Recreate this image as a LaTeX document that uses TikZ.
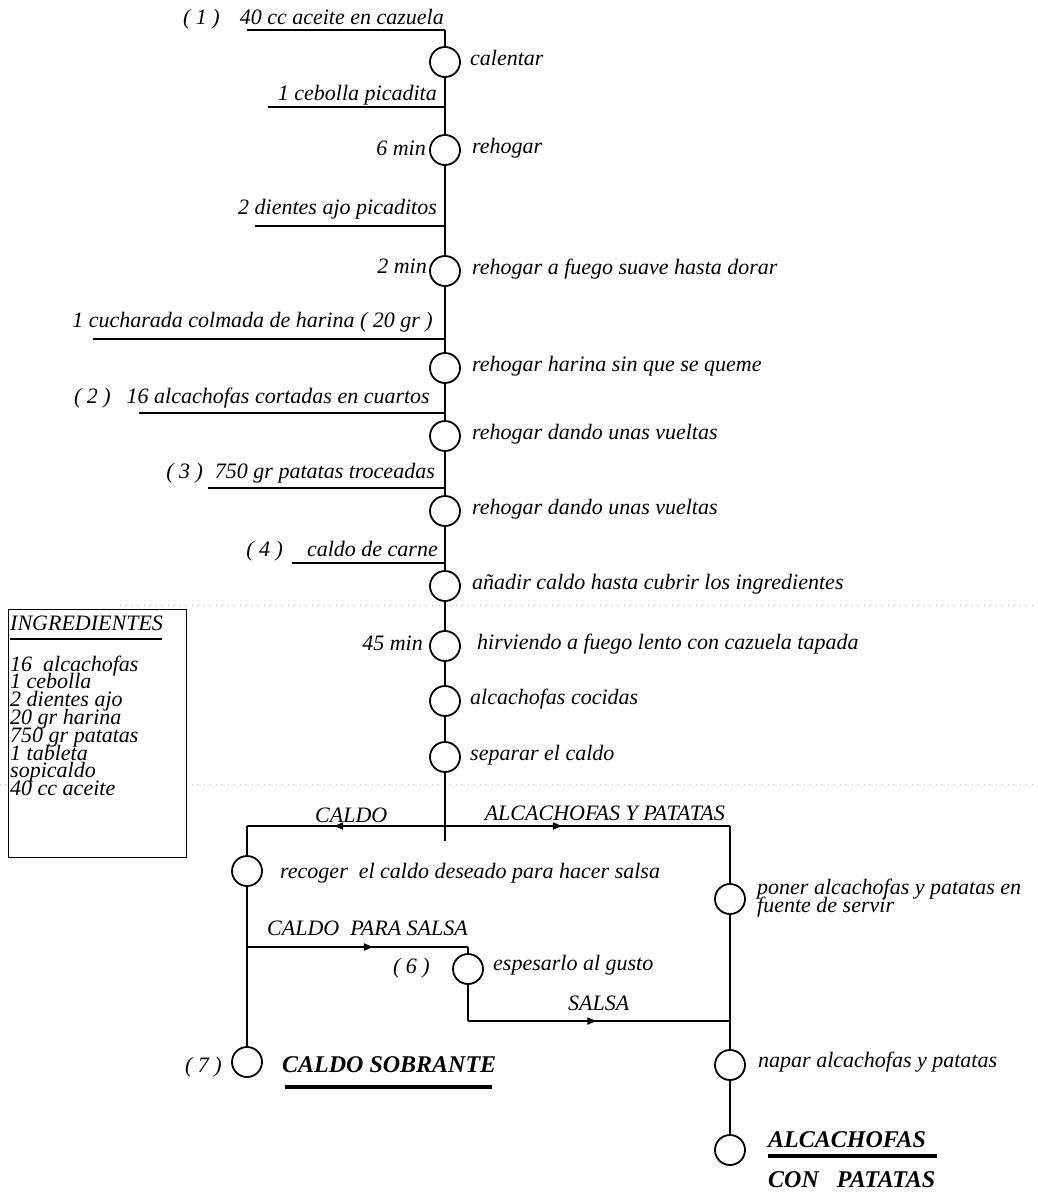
\documentclass[tikz,border=0pt]{standalone}
\usepackage{fontspec}
\setmainfont{Liberation Serif}
\usetikzlibrary{decorations.markings,arrows.meta}

\tikzset{
  stepc/.style={circle,draw,line width=1.8pt,minimum size=30pt,inner sep=0pt},
  flow/.style={line width=1.9pt},
  txt/.style={inner sep=0pt,font=\fontsize{22}{22}\selectfont\itshape},
  ingr/.style={txt,anchor=base east},
  act/.style={txt,anchor=base west},
  dur/.style={txt,anchor=base east},
  result/.style={inner sep=0pt,anchor=base west,font=\fontsize{24}{24}\selectfont\bfseries\itshape},
  heavyrule/.style={line width=3.2pt},
  midarrow/.style={postaction={decorate},decoration={markings,
      mark=at position #1 with {\arrow{Triangle[length=9pt,width=7pt]}}}},
  foldline/.style={gray!60,line width=0.7pt,dash pattern=on 1pt off 5pt}
}

\begin{document}
\begin{tikzpicture}[x=1pt,y=-1pt]
\useasboundingbox (0,0) rectangle (1037,1197);

% faint fold marks of the sheet
\draw[foldline] (120,605) -- (1037,605);
\draw[foldline] (0,784) -- (8,784);
\draw[foldline] (186,784) -- (1037,784);

% ---------------- main column ----------------
\node[stepc] (s1)  at (445,62)  {};
\node[stepc] (s2)  at (445,150) {};
\node[stepc] (s3)  at (445,271) {};
\node[stepc] (s4)  at (445,368) {};
\node[stepc] (s5)  at (445,436) {};
\node[stepc] (s6)  at (445,511) {};
\node[stepc] (s7)  at (445,586) {};
\node[stepc] (s8)  at (445,646) {};
\node[stepc] (s9)  at (445,701) {};
\node[stepc] (s10) at (445,757) {};

% joints where ingredients enter
\coordinate (top) at (445,30);
\coordinate (j2) at (445,107);
\coordinate (j3) at (445,226);
\coordinate (j4) at (445,339);
\coordinate (j5) at (445,413);
\coordinate (j6) at (445,488);
\coordinate (j7) at (445,563);
\coordinate (a1) at (247,30);
\coordinate (a2) at (268,107);
\coordinate (a3) at (255,226);
\coordinate (a4) at (93,339);
\coordinate (a5) at (139,413);
\coordinate (a6) at (208,488);
\coordinate (a7) at (292,563);

\draw[flow] (top) -- (s1);
\draw[flow] (s1) -- (s2);
\draw[flow] (s2) -- (s3);
\draw[flow] (s3) -- (s4);
\draw[flow] (s4) -- (s5);
\draw[flow] (s5) -- (s6);
\draw[flow] (s6) -- (s7);
\draw[flow] (s7) -- (s8);
\draw[flow] (s8) -- (s9);
\draw[flow] (s9) -- (s10);

\draw[flow] (a1) -- (top);
\draw[flow] (a2) -- (j2);
\draw[flow] (a3) -- (j3);
\draw[flow] (a4) -- (j4);
\draw[flow] (a5) -- (j5);
\draw[flow] (a6) -- (j6);
\draw[flow] (a7) -- (j7);

% ingredients added along the way
\node[ingr] (i1) at (444,24)  {(~1~)\hspace{20pt}40 cc aceite en cazuela};
\node[ingr] (i2) at (437,100) {1 cebolla picadita};
\node[ingr] (i3) at (437,214) {2 dientes ajo picaditos};
\node[ingr] (i4) at (433,327) {1 cucharada colmada de harina (~20 gr~)};
\node[ingr] (i5) at (430,403) {(~2~)\hspace{16pt}16 alcachofas cortadas en cuartos};
\node[ingr] (i6) at (435,478) {(~3~)\hspace{12pt}750 gr patatas troceadas};
\node[ingr] (i7) at (438,556) {(~4~)\hspace{24pt}caldo de carne};

% operations
\node[act] (o1)  at (470,65)  {calentar};
\node[act] (o2)  at (472,153) {rehogar};
\node[act] (o3)  at (472,274) {rehogar a fuego suave hasta dorar};
\node[act] (o4)  at (472,371) {rehogar harina sin que se queme};
\node[act] (o5)  at (472,439) {rehogar dando unas vueltas};
\node[act] (o6)  at (472,514) {rehogar dando unas vueltas};
\node[act] (o7)  at (472,589) {añadir caldo hasta cubrir los ingredientes};
\node[act] (o8)  at (477,649) {hirviendo a fuego lento con cazuela tapada};
\node[act] (o9)  at (470,704) {alcachofas cocidas};
\node[act] (o10) at (470,760) {separar el caldo};

\node[dur] (d2) at (426,155) {6 min};
\node[dur] (d3) at (427,273) {2 min};
\node[dur] (d8) at (423,650) {45 min};

% ---------------- ingredients list ----------------
\node[draw,line width=0.8pt,anchor=north west,inner sep=0pt,
      minimum width=178pt,minimum height=248pt] (ingbox) at (8,609) {};
\node[txt,anchor=base west] (ingtitle) at (10,630) {INGREDIENTES};
\draw[heavyrule,line width=2.6pt] (ingtitle.south west |- 0,639) -- (162,639);
\node[txt,anchor=base west] (inglist) at (10,671)
  {\vtop{\baselineskip=17.8pt\lineskiplimit=-30pt
    \hbox{16\ \ alcachofas}\hbox{1 cebolla}\hbox{2 dientes ajo}
    \hbox{20 gr harina}\hbox{750 gr patatas}\hbox{1 tableta}
    \hbox{sopicaldo}\hbox{40 cc aceite}}};

% ---------------- separation ----------------
\coordinate (split) at (445,826);
\coordinate (stub)  at (445,841);
\coordinate (bl) at (247,826);
\coordinate (br) at (730,826);
\draw[flow] (s10) -- (stub);
\draw[flow,midarrow=0.56] (split) -- (bl);
\draw[flow,midarrow=0.41] (split) -- (br);
\node[act] (lcaldo) at (315,822) {CALDO};
\node[txt,anchor=base east] (lalca) at (725,820) {ALCACHOFAS Y PATATAS};

% broth branch
\node[stepc] (r1) at (247,871)  {};
\node[stepc] (r7) at (247,1062) {};
\node[stepc] (r6) at (468,969)  {};
\coordinate (sj) at (247,947);
\coordinate (sc) at (468,947);
\coordinate (sb) at (468,1021);
\coordinate (sr) at (730,1021);

\draw[flow] (bl) -- (r1);
\draw[flow] (r1) -- (r7);
\draw[flow,midarrow=0.57] (sj) -- (sc);
\draw[flow] (sc) -- (r6);
\draw[flow] (r6) -- (sb);
\draw[flow,midarrow=0.49] (sb) -- (sr);

\node[act] (tr1) at (280,878) {recoger\ \ el caldo deseado para hacer salsa};
\node[act] (lsalsa1) at (267,935) {CALDO\ \ PARA SALSA};
\node[dur] (n6) at (430,973) {(~6~)};
\node[act] (tr6) at (493,970) {espesarlo al gusto};
\node[act] (lsalsa2) at (568,1010) {SALSA};
\node[dur] (n7) at (222,1072) {(~7~)};
\node[result] (caldo) at (282,1072) {CALDO SOBRANTE};
\draw[heavyrule] (285,1087) -- (492,1087);

% artichoke branch
\node[stepc] (p1) at (730,899)  {};
\node[stepc] (p2) at (730,1065) {};
\node[stepc] (p3) at (730,1150) {};
\draw[flow] (br) -- (p1);
\draw[flow] (p1) -- (p2);
\draw[flow] (p2) -- (p3);

\node[act] (tp1) at (757,894)
  {\vtop{\baselineskip=18.5pt\lineskiplimit=-30pt
    \hbox{poner alcachofas y patatas en}\hbox{fuente de servir}}};
\node[act] (tp2) at (758,1067) {napar alcachofas y patatas};
\node[result] (fin1) at (768,1147) {ALCACHOFAS};
\draw[heavyrule] (768,1156) -- (937,1156);
\node[result] (fin2) at (768,1187) {CON\ \ \ PATATAS};
\end{tikzpicture}
\end{document}
